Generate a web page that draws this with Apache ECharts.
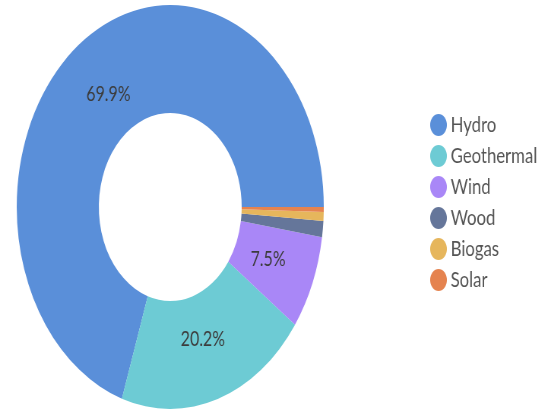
<!DOCTYPE html>
<html>
<head>
<meta charset="utf-8">
<script src="https://cdn.jsdelivr.net/npm/echarts@6/dist/echarts.min.js"></script>
<style>
  html, body { margin: 0; padding: 0; background: #fff; overflow: hidden; }
  #wrap { width: 543px; height: 411px; overflow: hidden; }
  #c { width: 714px; height: 411px; transform: scaleX(0.76); transform-origin: 0 0; }
</style>
</head>
<body>
<div id="wrap"><div id="c"></div></div>
<script>
const categories = ['Hydro', 'Geothermal', 'Wind', 'Wood', 'Biogas', 'Solar'];
const shares = [69.9, 20.2, 7.5, 1.3, 0.7, 0.4];
const colors = ['#5a8fd9', '#6dcbd4', '#a987f7', '#65769a', '#e6b65c', '#e5834f'];

const data = categories.map((name, i) => ({ name: name, value: shares[i] }));

const chart = echarts.init(document.getElementById('c'), null, { renderer: 'canvas' });
chart.setOption({
  animation: false,
  backgroundColor: '#ffffff',
  color: colors,
  legend: {
    orient: 'vertical',
    left: 561,
    top: 109,
    icon: 'circle',
    itemWidth: 22,
    itemHeight: 22,
    itemGap: 9,
    textStyle: { fontFamily: 'Lato', fontSize: 22, color: '#555' },
    data: categories
  },
  series: [
    {
      type: 'pie',
      center: [224, 207],
      radius: [94, 202],
      startAngle: 0,
      clockwise: false,
      percentPrecision: 1,
      itemStyle: { borderWidth: 0 },
      label: { show: false },
      labelLine: { show: false },
      emphasis: { disabled: true },
      data: data
    },
    {
      type: 'pie',
      silent: true,
      center: [224, 207],
      radius: [94, 178],
      startAngle: 0,
      clockwise: false,
      percentPrecision: 1,
      itemStyle: { color: 'transparent', borderWidth: 0 },
      label: {
        show: true,
        position: 'inside',
        fontFamily: 'Lato',
        fontSize: 21,
        color: '#3c3c3c',
        formatter: p => p.percent < 5 ? '' : p.percent.toFixed(1) + '%'
      },
      labelLine: { show: false },
      emphasis: { disabled: true },
      data: data
    }
  ]
});
</script>
</body>
</html>
